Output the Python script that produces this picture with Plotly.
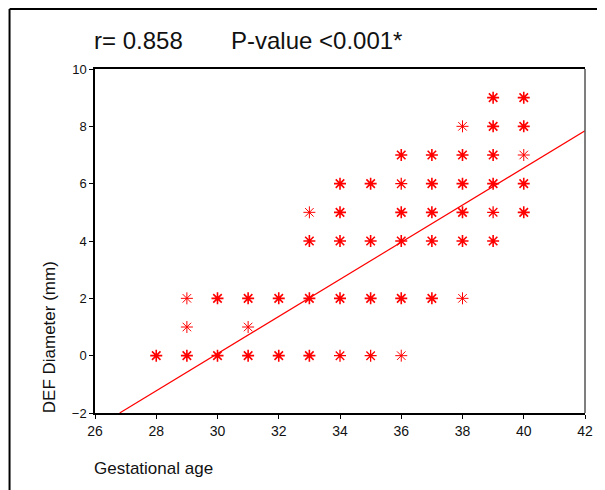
import plotly.graph_objects as go

# gestational age (weeks) and DEF diameter (mm); weight = how heavy the asterisk looks (overlaps)
ages = [28, 29, 29, 29, 30, 30, 31, 31, 31, 32, 32,
        33, 33, 33, 33, 34, 34, 34, 34, 34, 35, 35, 35, 35,
        36, 36, 36, 36, 36, 36, 37, 37, 37, 37, 37,
        38, 38, 38, 38, 38, 38, 39, 39, 39, 39, 39, 39,
        40, 40, 40, 40, 40]
diam = [0, 0, 1, 2, 0, 2, 0, 1, 2, 0, 2,
        0, 2, 4, 5, 0, 2, 4, 5, 6, 0, 2, 4, 6,
        0, 2, 4, 5, 6, 7, 2, 4, 5, 6, 7,
        2, 4, 5, 6, 7, 8, 4, 5, 6, 7, 8, 9,
        5, 6, 7, 8, 9]
weight = [3, 3, 1, 1, 3, 3, 3, 1, 3, 3, 3,
          3, 3, 3, 1, 2, 3, 3, 3, 3, 2, 3, 3, 3,
          1, 3, 3, 3, 2, 3, 3, 3, 3, 3, 3,
          1, 3, 3, 3, 3, 1, 3, 2, 3, 3, 3, 3,
          3, 3, 1, 3, 3]

slope = 0.648
intercept = -19.37

x_ticks = [26, 28, 30, 32, 34, 36, 38, 40, 42]
y_ticks = [-2, 0, 2, 4, 6, 8, 10]

lw = {1: 1.0, 2: 1.3, 3: 1.6}

fig = go.Figure()

# fitted line, from the bottom of the y range to the right edge
x0 = (y_ticks[0] - intercept) / slope
x1 = x_ticks[-1]
fig.add_trace(go.Scatter(x=[x0, x1], y=[slope * x0 + intercept, slope * x1 + intercept],
                         mode="lines", line=dict(color="#ff0000", width=1.2),
                         hoverinfo="skip"))

fig.add_trace(go.Scatter(x=ages, y=diam, mode="markers",
                         marker=dict(symbol="asterisk-open", size=10, color="#ff0000",
                                     line=dict(color="#ff0000", width=[lw[w] for w in weight]))))

# page has an 8px body margin, so the figure is 8px smaller than the window
fig.update_layout(
    width=597, height=482,
    margin=dict(l=87, r=17, t=61, b=77),
    paper_bgcolor="white", plot_bgcolor="white",
    showlegend=False,
    font=dict(family="Liberation Sans, Arial", size=12, color="#111"),
)
fig.update_xaxes(range=[26, 42], tickvals=x_ticks, showgrid=False, zeroline=False,
                 showline=True, mirror=True, linecolor="black", linewidth=1.5,
                 ticks="outside", ticklen=4, tickcolor="black", tickfont=dict(size=14))
fig.update_yaxes(range=[-2, 10], tickvals=y_ticks, showgrid=False, zeroline=False,
                 showline=True, linecolor="black", linewidth=1.5,
                 ticks="outside", ticklen=4, tickcolor="black", tickfont=dict(size=13))

# right edge of the plot is grey
fig.add_shape(type="line", xref="paper", yref="paper", x0=1, x1=1, y0=0, y1=1,
              line=dict(color="#555", width=1.5))
# outer frame, top and left only
fig.add_shape(type="line", xref="paper", yref="paper", x0=-0.1744, x1=1.04, y0=1.1744, y1=1.1744,
              line=dict(color="black", width=2))
fig.add_shape(type="line", xref="paper", yref="paper", x0=-0.1744, x1=-0.1744, y0=1.1744, y1=-0.23,
              line=dict(color="black", width=2))

fig.add_annotation(text="r= 0.858", xref="paper", yref="paper", x=-0.006, y=1.084,
                   xanchor="left", yanchor="middle", showarrow=False, font=dict(size=24, color="#111"))
fig.add_annotation(text="P-value <0.001*", xref="paper", yref="paper", x=0.274, y=1.084,
                   xanchor="left", yanchor="middle", showarrow=False, font=dict(size=24, color="#111"))
fig.add_annotation(text="DEF Diameter (mm)", xref="paper", yref="paper", x=-0.0913, y=0.221,
                   xanchor="center", yanchor="middle", textangle=-90, showarrow=False,
                   font=dict(size=17, color="#111"))
fig.add_annotation(text="Gestational age", xref="paper", yref="paper", x=-0.006, y=-0.160,
                   xanchor="left", yanchor="middle", showarrow=False, font=dict(size=17, color="#111"))

fig.write_html("out.html")
